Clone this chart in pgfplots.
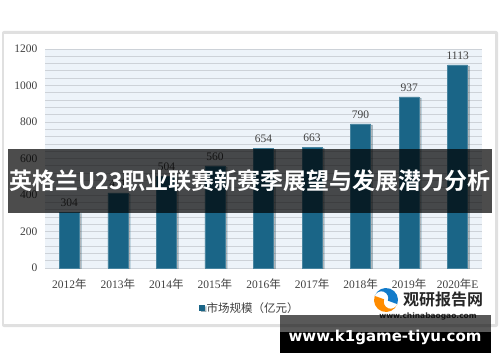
\documentclass[border=0pt]{standalone}
\usepackage{fontspec}
\setmainfont{Liberation Serif}
\newfontfamily\cjk[BoldFont={Noto Sans CJK SC Bold}]{Noto Sans CJK SC}
\newfontfamily\wsans{DejaVu Sans}
\usepackage{pgfplots}
\pgfplotsset{compat=1.18}
\usetikzlibrary{shadows}
\definecolor{barc}{HTML}{1A6587}
\definecolor{bgc}{HTML}{EDF3F9}
\definecolor{gridc}{HTML}{CDD2D8}
\definecolor{txt}{HTML}{404040}
\newcommand{\nian}{{\cjk 年}}
\begin{document}
\begin{tikzpicture}[x=1pt,y=1pt]
\path[use as bounding box] (0,0) rectangle (500,362);
\fill[white] (0,0) rectangle (500,362);
% panel
\fill[black!12,rounded corners=2pt] (2,35) rectangle (498,331);
\fill[white] (4,38) rectangle (495,328);
\begin{axis}[
  at={(45pt,94pt)}, anchor=south west,
  scale only axis, width=437pt, height=219pt,
  xmin=-0.5, xmax=8.5, ymin=0, ymax=1200,
  axis line style={draw=none},
  axis background/.style={fill=bgc},
  ytick={0,200,...,1200},
  minor ytick={0,40,...,1200},
  ymajorgrids, yminorgrids,
  major grid style={gridc, line width=0.8pt},
  minor grid style={gridc, line width=0.8pt},
  tick style={draw=none},
  xtick={0,...,8},
  xticklabels={2012\nian,2013\nian,2014\nian,2015\nian,2016\nian,2017\nian,2018\nian,2019\nian,2020\nian E},
  /pgf/number format/assume math mode=true,
  /pgf/number format/1000 sep={},
  ticklabel style={font=\fontsize{11.5}{13}\selectfont, text=txt},
  yticklabel style={xshift=-4pt},
  xticklabel style={yshift=-3pt},
  ybar, bar width=20pt,
  nodes near coords,
  nodes near coords style={font=\fontsize{11.5}{13}\selectfont, text=txt, yshift=2pt},
  legend style={at={(0.469,-0.183)}, anchor=center, draw=none, fill=none,
     font=\fontsize{11.5}{13}\selectfont\cjk, text=txt},
  legend image code/.code={\fill[barc] (0pt,-2.5pt) rectangle (5pt,2.5pt);},
]
\addplot[fill=barc, draw=barc!80!white, line width=0.5pt,
  drop shadow={shadow xshift=2pt, shadow yshift=-1pt, opacity=0.25, fill=black}]
  coordinates {(0,304) (1,411) (2,504) (3,560) (4,654) (5,663) (6,790) (7,937) (8,1113)};
\addlegendentry{市场规模（亿元）}
\end{axis}
% logo
\fill[orange!90!yellow] (386,62) ++(160:12) arc (160:340:12) arc (340:160:7) -- cycle;
\fill[cyan!60!blue] (386,62) ++(-20:12) arc (-20:160:12) arc (160:-20:7) -- cycle;
\node[font=\cjk\bfseries\fontsize{16}{18}\selectfont, text=black!85] at (443,63) {观研报告网};
\node[font=\wsans\bfseries\fontsize{7.5}{9}\selectfont, text=black!80] at (428,46) {www.chinabaogao.com};
% banner
\fill[black,opacity=0.7] (8,149) rectangle (492,213);
\node[font=\cjk\bfseries\fontsize{23}{26}\selectfont, text=white] at (250,181) {英格兰U23职业联赛新赛季展望与发展潜力分析};
% watermark
\fill[black,opacity=0.65] (280,30) rectangle (491,47);
\fill[black] (280,9) rectangle (491,30);
\node[font=\wsans\bfseries\fontsize{15}{17}\selectfont, text=white] at (385,25) {www.k1game-tiyu.com};
\end{tikzpicture}
\end{document}
